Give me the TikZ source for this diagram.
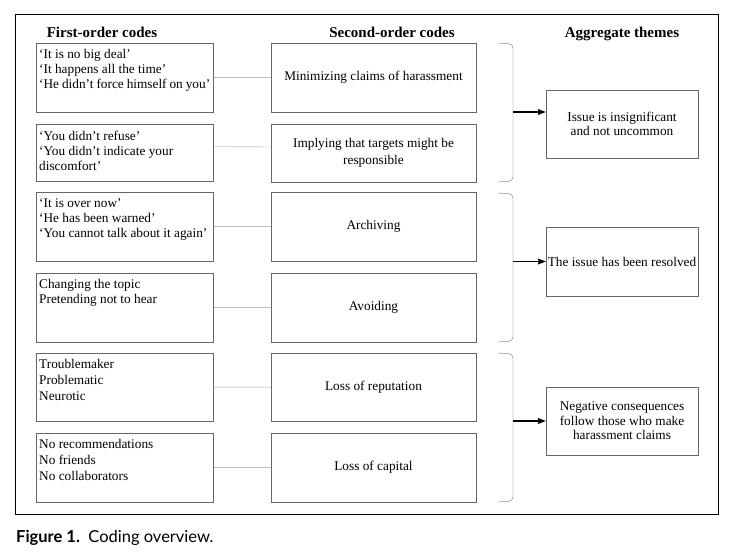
\documentclass[tikz,border=0pt]{standalone}
\usepackage{fontspec}
\setmainfont{Liberation Serif}
\newfontfamily\captionfont{Lato}
\usetikzlibrary{arrows.meta}

\newcommand{\codelines}[2][61pt]{\parbox[c][#1][t]{171pt}{\vspace*{2.5pt}#2}}

\begin{document}
\begin{tikzpicture}[x=1pt,y=-1pt]
    \useasboundingbox (0,0) rectangle (735,559);
    \draw[line width=1pt] (15,15) rectangle (718,514);

    \begin{scope}[every node/.style={anchor=base,font=\fontsize{15}{17}\selectfont\bfseries}]
      \node (head1) at (102,38) {First-order codes};
      \node (head2) at (392,38) {Second-order codes};
      \node (head3) at (622,38) {Aggregate themes};
    \end{scope}

    % first-order codes
    \begin{scope}[every node/.style={draw=black!60,anchor=north west,inner xsep=3pt,inner ysep=4pt,
        font=\fontsize{13.3}{15}\selectfont}]
      \node (f1) at (36,43) {\codelines{`It is no big deal'\\`It happens all the time'\\`He didn't force himself on you'}};
      \node (f2) at (36,124) {\codelines[49pt]{`You didn't refuse'\\`You didn't indicate your\\discomfort'}};
      \node (f3) at (36,192) {\codelines{`It is over now'\\`He has been warned'\\`You cannot talk about it again'}};
      \node (f4) at (36,273) {\codelines{Changing the topic\\Pretending not to hear}};
      \node (f5) at (36,353) {\codelines[60pt]{Troublemaker\\[1pt]Problematic\\[1pt]Neurotic}};
      \node (f6) at (36,433) {\codelines{No recommendations\\[1pt]No friends\\[1pt]No collaborators}};
    \end{scope}

    % second-order codes
    \begin{scope}[every node/.style={draw=black!60,minimum width=205pt,align=center,
        font=\fontsize{13.3}{15}\selectfont}]
      \node[minimum height=69pt] (s1) at (373.5,77.5) {Minimizing claims of harassment};
      \node[minimum height=58pt] (s2) at (373.5,153) {Implying that targets might be\\[2pt]responsible};
      \node[minimum height=69pt] (s3) at (373.5,226.5) {Archiving};
      \node[minimum height=69pt] (s4) at (373.5,307.5) {Avoiding};
      \node[minimum height=68pt] (s5) at (373.5,387) {Loss of reputation};
      \node[minimum height=69pt] (s6) at (373.5,467.5) {Loss of capital};
    \end{scope}

    % aggregate themes
    \begin{scope}[every node/.style={draw=black!60,minimum width=152pt,inner xsep=1pt,align=center,
        font=\fontsize{13.3}{14.5}\selectfont}]
      \node[minimum height=68pt] (a1) at (622,124) {Issue is insignificant\\and not uncommon};
      \node[minimum height=69pt] (a2) at (622,261.5) {The issue has been resolved};
      \node[minimum height=68pt] (a3) at (622,421) {Negative consequences\\follow those who make\\harassment claims};
    \end{scope}

    \begin{scope}[every path/.style={draw=black!40}]
      \path (f1) -- (s1);
      \path ([yshift=6pt]f2.east) -- ([yshift=6pt]s2.west);
      \path (f3) -- (s3);
      \path (f4) -- (s4);
      \path (f5) -- (s5);
      \path (f6) -- (s6);
    \end{scope}

    % brackets
    \foreach \top/\bot/\name/\mid in {43/182/b1/112, 193/342/b2/261.5, 353/502/b3/421} {
      \draw[black!55,rounded corners=4pt] (498,\top) -- (513,\top+1) -- (513,\bot-1) -- (498,\bot);
      \coordinate (\name) at (513,\mid);
    }

    \begin{scope}[>={Stealth[length=8pt,width=6pt,inset=1pt]},line width=1.1pt]
      \draw[->] (b1) -- (b1 -| a1.west);
      \draw[->] (b2) -- (b2 -| a2.west);
      \draw[->] (b3) -- (b3 -| a3.west);
    \end{scope}

    \node[anchor=base west,inner sep=0pt,font=\captionfont\fontsize{16.5}{18}\selectfont] (cap) at (16,542)
      {\textbf{Figure 1.}\ \ Coding overview.};
\end{tikzpicture}
\end{document}
